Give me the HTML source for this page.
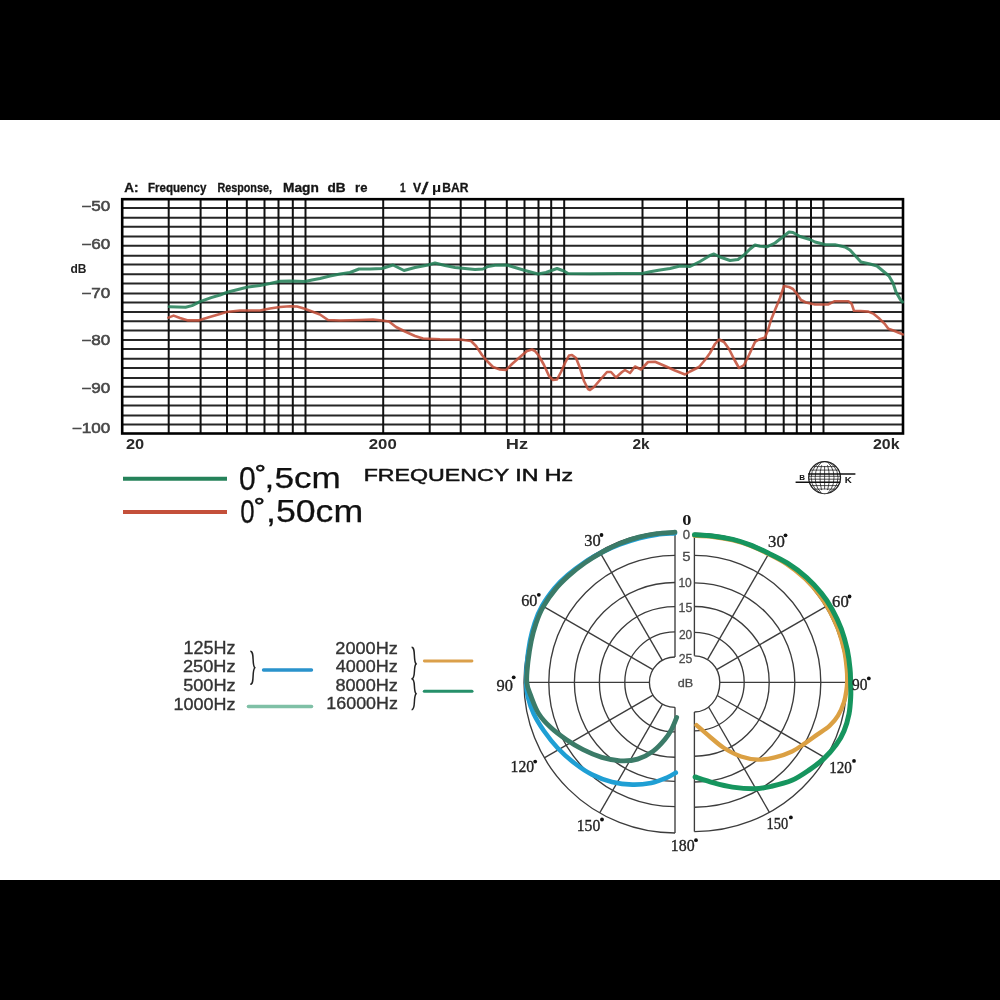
<!DOCTYPE html>
<html><head><meta charset="utf-8"><title>Frequency response</title>
<style>
html,body{margin:0;padding:0;background:#fff;}
body{width:1000px;height:1000px;overflow:hidden;font-family:"Liberation Sans",sans-serif;}
svg{display:block;will-change:transform;filter:blur(0.3px);}
</style></head><body>
<svg width="1000" height="1000" viewBox="0 0 1000 1000">
<rect x="0" y="0" width="1000" height="120" fill="#000"/>
<rect x="0" y="880" width="1000" height="120" fill="#000"/>
<line x1="122.2" y1="208" x2="903" y2="208" stroke="#262626" stroke-width="2"/>
<line x1="122.2" y1="217.8" x2="903" y2="217.8" stroke="#262626" stroke-width="2"/>
<line x1="122.2" y1="226.8" x2="903" y2="226.8" stroke="#262626" stroke-width="2"/>
<line x1="122.2" y1="236.6" x2="903" y2="236.6" stroke="#262626" stroke-width="2"/>
<line x1="122.2" y1="245.8" x2="903" y2="245.8" stroke="#262626" stroke-width="2"/>
<line x1="122.2" y1="255.8" x2="903" y2="255.8" stroke="#262626" stroke-width="2"/>
<line x1="122.2" y1="264.6" x2="903" y2="264.6" stroke="#262626" stroke-width="2"/>
<line x1="122.2" y1="274.2" x2="903" y2="274.2" stroke="#262626" stroke-width="2"/>
<line x1="122.2" y1="283.4" x2="903" y2="283.4" stroke="#262626" stroke-width="2"/>
<line x1="122.2" y1="293.4" x2="903" y2="293.4" stroke="#262626" stroke-width="2"/>
<line x1="122.2" y1="302.4" x2="903" y2="302.4" stroke="#262626" stroke-width="2"/>
<line x1="122.2" y1="312" x2="903" y2="312" stroke="#262626" stroke-width="2"/>
<line x1="122.2" y1="321.2" x2="903" y2="321.2" stroke="#262626" stroke-width="2"/>
<line x1="122.2" y1="330.4" x2="903" y2="330.4" stroke="#262626" stroke-width="2"/>
<line x1="122.2" y1="340" x2="903" y2="340" stroke="#262626" stroke-width="2"/>
<line x1="122.2" y1="349.1" x2="903" y2="349.1" stroke="#262626" stroke-width="2"/>
<line x1="122.2" y1="358.8" x2="903" y2="358.8" stroke="#262626" stroke-width="2"/>
<line x1="122.2" y1="368" x2="903" y2="368" stroke="#262626" stroke-width="2"/>
<line x1="122.2" y1="378" x2="903" y2="378" stroke="#262626" stroke-width="2"/>
<line x1="122.2" y1="386.8" x2="903" y2="386.8" stroke="#262626" stroke-width="2"/>
<line x1="122.2" y1="396.8" x2="903" y2="396.8" stroke="#262626" stroke-width="2"/>
<line x1="122.2" y1="405.6" x2="903" y2="405.6" stroke="#262626" stroke-width="2"/>
<line x1="122.2" y1="415.5" x2="903" y2="415.5" stroke="#262626" stroke-width="2"/>
<line x1="122.2" y1="424.6" x2="903" y2="424.6" stroke="#262626" stroke-width="2"/>
<line x1="168.7" y1="199.2" x2="168.7" y2="433.5" stroke="#111" stroke-width="2"/>
<line x1="200.6" y1="199.2" x2="200.6" y2="433.5" stroke="#111" stroke-width="2"/>
<line x1="227" y1="199.2" x2="227" y2="433.5" stroke="#111" stroke-width="2"/>
<line x1="246.8" y1="199.2" x2="246.8" y2="433.5" stroke="#111" stroke-width="2"/>
<line x1="264.5" y1="199.2" x2="264.5" y2="433.5" stroke="#111" stroke-width="2"/>
<line x1="278.5" y1="199.2" x2="278.5" y2="433.5" stroke="#111" stroke-width="2"/>
<line x1="292.8" y1="199.2" x2="292.8" y2="433.5" stroke="#111" stroke-width="2"/>
<line x1="305.5" y1="199.2" x2="305.5" y2="433.5" stroke="#111" stroke-width="2"/>
<line x1="383.2" y1="199.2" x2="383.2" y2="433.5" stroke="#111" stroke-width="2"/>
<line x1="429.7" y1="199.2" x2="429.7" y2="433.5" stroke="#111" stroke-width="2"/>
<line x1="460.7" y1="199.2" x2="460.7" y2="433.5" stroke="#111" stroke-width="2"/>
<line x1="485.2" y1="199.2" x2="485.2" y2="433.5" stroke="#111" stroke-width="2"/>
<line x1="506.8" y1="199.2" x2="506.8" y2="433.5" stroke="#111" stroke-width="2"/>
<line x1="524.5" y1="199.2" x2="524.5" y2="433.5" stroke="#111" stroke-width="2"/>
<line x1="538.5" y1="199.2" x2="538.5" y2="433.5" stroke="#111" stroke-width="2"/>
<line x1="551.2" y1="199.2" x2="551.2" y2="433.5" stroke="#111" stroke-width="2"/>
<line x1="564.2" y1="199.2" x2="564.2" y2="433.5" stroke="#111" stroke-width="2"/>
<line x1="642.5" y1="199.2" x2="642.5" y2="433.5" stroke="#111" stroke-width="2"/>
<line x1="687" y1="199.2" x2="687" y2="433.5" stroke="#111" stroke-width="2"/>
<line x1="718.7" y1="199.2" x2="718.7" y2="433.5" stroke="#111" stroke-width="2"/>
<line x1="745.5" y1="199.2" x2="745.5" y2="433.5" stroke="#111" stroke-width="2"/>
<line x1="765.8" y1="199.2" x2="765.8" y2="433.5" stroke="#111" stroke-width="2"/>
<line x1="783.7" y1="199.2" x2="783.7" y2="433.5" stroke="#111" stroke-width="2"/>
<line x1="796.8" y1="199.2" x2="796.8" y2="433.5" stroke="#111" stroke-width="2"/>
<line x1="811" y1="199.2" x2="811" y2="433.5" stroke="#111" stroke-width="2"/>
<line x1="823.5" y1="199.2" x2="823.5" y2="433.5" stroke="#111" stroke-width="2"/>
<rect x="122.2" y="199.2" width="780.8" height="234.3" fill="none" stroke="#000" stroke-width="2.6"/>
<polyline points="168.4,317.6 173.6,315.6 180.0,318.0 188.0,320.4 198.4,320.4 208.0,317.6 220.0,314.0 226.4,312.0 240.0,310.5 260.0,310.5 270.0,308.5 280.0,307.0 290.0,306.2 297.0,306.5 304.0,308.5 312.0,311.5 320.0,314.5 328.0,320.0 340.0,320.5 360.0,320.0 373.0,319.5 382.0,320.5 389.0,321.5 396.0,327.0 405.0,331.5 415.0,336.0 423.0,338.5 440.0,339.2 460.0,339.5 471.0,341.0 476.0,346.0 482.0,355.0 487.0,361.0 493.0,367.0 500.0,369.5 506.0,370.0 512.0,364.0 520.0,357.0 527.0,351.0 532.0,349.5 535.0,351.0 539.0,356.0 544.0,365.0 549.0,376.0 553.0,380.0 557.0,379.5 561.0,372.0 565.0,363.0 569.0,355.5 572.0,355.0 576.0,358.0 580.0,368.0 584.0,381.0 588.0,389.0 590.0,390.0 594.0,387.0 600.0,380.0 607.0,372.0 611.0,372.0 616.0,377.5 622.0,372.0 625.0,370.0 630.0,373.0 635.0,366.5 641.0,369.5 648.0,362.0 655.0,361.8 665.0,366.0 675.0,370.5 685.0,374.5 690.0,371.5 699.0,367.0 705.0,360.0 710.0,353.0 715.0,344.0 719.0,339.5 724.0,342.0 729.0,349.0 734.0,359.0 739.0,368.0 744.0,365.0 749.0,355.0 755.0,342.0 759.0,339.5 765.0,337.5 768.0,330.0 771.0,320.0 775.0,310.0 780.0,298.0 784.0,286.0 789.0,287.0 793.0,289.0 797.0,294.0 801.0,300.0 806.0,302.5 815.0,304.5 828.0,304.5 834.8,301.2 848.4,301.2 851.6,303.6 854.0,310.8 860.4,311.0 868.4,311.6 873.2,313.6 879.6,318.8 885.2,324.4 888.4,328.8 894.0,330.8 898.8,332.8 902.8,334.4" fill="none" stroke="#c4503a" stroke-width="2.6" stroke-linejoin="round" stroke-linecap="round" stroke-opacity="0.88"/>
<polyline points="169.2,306.8 185.6,307.2 192.0,305.6 200.0,301.6 211.2,297.6 220.0,295.0 228.0,292.0 238.0,289.5 248.0,287.0 260.0,285.5 270.0,283.5 280.0,281.2 290.0,281.0 305.0,281.5 312.0,280.0 320.0,278.5 330.0,276.0 340.0,274.0 350.0,272.5 359.0,269.0 370.0,269.0 382.0,268.5 393.0,265.0 404.0,270.5 415.0,267.5 428.0,265.0 435.0,263.0 445.0,265.5 455.0,267.5 465.0,268.5 475.0,269.5 483.0,269.0 488.0,266.5 495.0,265.2 507.0,265.0 515.0,267.5 525.0,270.5 538.0,274.0 546.0,272.5 557.0,268.5 564.0,271.0 568.0,273.5 590.0,273.8 620.0,273.6 642.0,273.5 650.0,271.8 660.0,270.0 670.0,268.5 680.0,266.0 690.0,266.5 700.0,261.5 710.0,255.5 714.0,254.0 720.0,257.0 730.0,260.5 738.0,259.5 744.0,255.0 750.0,249.0 755.0,245.0 760.0,246.2 767.0,246.8 775.0,243.0 782.0,237.5 789.0,232.0 793.0,232.5 800.0,236.5 810.0,239.5 815.0,242.0 825.0,244.5 835.0,244.8 845.0,247.0 850.0,250.0 855.0,255.5 861.0,262.0 870.0,264.0 877.0,266.0 883.0,271.0 889.0,276.0 893.0,283.0 896.0,292.0 900.0,299.0 902.5,302.0" fill="none" stroke="#25825a" stroke-width="3.0" stroke-linejoin="round" stroke-linecap="round" stroke-opacity="0.88"/>
<text x="124.16" y="191.60" font-family="Liberation Sans" font-weight="bold" font-size="12.21" fill="#151515" textLength="14.23" lengthAdjust="spacingAndGlyphs" stroke="#151515" stroke-width="0.3">A:</text>
<text x="148.03" y="191.60" font-family="Liberation Sans" font-weight="bold" font-size="12.21" fill="#151515" textLength="58.43" lengthAdjust="spacingAndGlyphs" stroke="#151515" stroke-width="0.3">Frequency</text>
<text x="217.38" y="191.60" font-family="Liberation Sans" font-weight="bold" font-size="12.21" fill="#151515" textLength="54.55" lengthAdjust="spacingAndGlyphs" stroke="#151515" stroke-width="0.3">Response,</text>
<text x="283.08" y="191.60" font-family="Liberation Sans" font-weight="bold" font-size="12.21" fill="#151515" textLength="35.77" lengthAdjust="spacingAndGlyphs" stroke="#151515" stroke-width="0.3">Magn</text>
<text x="327.44" y="191.60" font-family="Liberation Sans" font-weight="bold" font-size="12.21" fill="#151515" textLength="18.17" lengthAdjust="spacingAndGlyphs" stroke="#151515" stroke-width="0.3">dB</text>
<text x="355.14" y="191.60" font-family="Liberation Sans" font-weight="bold" font-size="12.21" fill="#151515" textLength="12.31" lengthAdjust="spacingAndGlyphs" stroke="#151515" stroke-width="0.3">re</text>
<text x="399.96" y="191.60" font-family="Liberation Sans" font-weight="bold" font-size="12.21" fill="#151515" textLength="5.62" lengthAdjust="spacingAndGlyphs" stroke="#151515" stroke-width="0.3">1</text>
<text x="412.91" y="191.60" font-family="Liberation Sans" font-weight="bold" font-size="12.21" fill="#151515" textLength="8.17" lengthAdjust="spacingAndGlyphs" stroke="#151515" stroke-width="0.3">V</text>
<text x="442.29" y="191.60" font-family="Liberation Sans" font-weight="bold" font-size="12.21" fill="#151515" textLength="26.17" lengthAdjust="spacingAndGlyphs" stroke="#151515" stroke-width="0.3">BAR</text>
<text x="421.50" y="193.53" font-family="Liberation Sans" font-size="16.73" fill="#151515" textLength="6.80" lengthAdjust="spacingAndGlyphs" stroke="#151515" stroke-width="0.5">/</text>
<text x="431.96" y="192.32" font-family="Liberation Sans" font-weight="bold" font-size="12.91" fill="#151515" textLength="9.20" lengthAdjust="spacingAndGlyphs" >µ</text>
<text x="81.2" y="210.9" font-family="Liberation Sans" font-size="14" fill="#484848" stroke="#484848" stroke-width="0.55" textLength="29" lengthAdjust="spacingAndGlyphs">−50</text>
<text x="81.2" y="249.4" font-family="Liberation Sans" font-size="14" fill="#484848" stroke="#484848" stroke-width="0.55" textLength="29" lengthAdjust="spacingAndGlyphs">−60</text>
<text x="81.2" y="298.4" font-family="Liberation Sans" font-size="14" fill="#484848" stroke="#484848" stroke-width="0.55" textLength="29" lengthAdjust="spacingAndGlyphs">−70</text>
<text x="81.2" y="344.7" font-family="Liberation Sans" font-size="14" fill="#484848" stroke="#484848" stroke-width="0.55" textLength="29" lengthAdjust="spacingAndGlyphs">−80</text>
<text x="81.2" y="392.9" font-family="Liberation Sans" font-size="14" fill="#484848" stroke="#484848" stroke-width="0.55" textLength="29" lengthAdjust="spacingAndGlyphs">−90</text>
<text x="71.7" y="432.5" font-family="Liberation Sans" font-size="14" fill="#484848" stroke="#484848" stroke-width="0.55" textLength="38.5" lengthAdjust="spacingAndGlyphs">−100</text>
<text x="70.5" y="273" font-family="Liberation Sans" font-weight="bold" font-size="12" fill="#222">dB</text>
<text x="125.93" y="448.85" font-family="Liberation Sans" font-weight="bold" font-size="14.69" fill="#2a2a2a" textLength="18.25" lengthAdjust="spacingAndGlyphs" >20</text>
<text x="368.81" y="448.85" font-family="Liberation Sans" font-weight="bold" font-size="14.69" fill="#2a2a2a" textLength="27.98" lengthAdjust="spacingAndGlyphs" >200</text>
<text x="505.78" y="448.85" font-family="Liberation Sans" font-weight="bold" font-size="14.69" fill="#2a2a2a" textLength="22.28" lengthAdjust="spacingAndGlyphs" >Hz</text>
<text x="632.46" y="448.85" font-family="Liberation Sans" font-weight="bold" font-size="14.69" fill="#2a2a2a" textLength="17.13" lengthAdjust="spacingAndGlyphs" >2k</text>
<text x="872.94" y="448.85" font-family="Liberation Sans" font-weight="bold" font-size="14.69" fill="#2a2a2a" textLength="26.55" lengthAdjust="spacingAndGlyphs" >20k</text>
<line x1="123" y1="478.8" x2="227" y2="478.8" stroke="#25825a" stroke-width="4"/>
<line x1="123" y1="512" x2="227" y2="512" stroke="#c4503a" stroke-width="4"/>
<text x="239.03" y="489.87" font-family="Liberation Sans" font-size="33.47" fill="#111" textLength="16.75" lengthAdjust="spacingAndGlyphs" stroke="#111" stroke-width="0.25">0</text>
<text x="254.73" y="481.26" font-family="Liberation Sans" font-size="21.58" fill="#111" textLength="11.14" lengthAdjust="spacingAndGlyphs" stroke="#111" stroke-width="0.6">°</text>
<text x="264.64" y="488.10" font-family="Liberation Sans" font-size="29.66" fill="#111" textLength="76.08" lengthAdjust="spacingAndGlyphs" stroke="#111" stroke-width="0.25">,5cm</text>
<text x="240.19" y="522.66" font-family="Liberation Sans" font-size="34.04" fill="#111" textLength="14.43" lengthAdjust="spacingAndGlyphs" stroke="#111" stroke-width="0.25">0</text>
<text x="253.83" y="513.71" font-family="Liberation Sans" font-size="21.22" fill="#111" textLength="11.14" lengthAdjust="spacingAndGlyphs" stroke="#111" stroke-width="0.6">°</text>
<text x="265.99" y="521.99" font-family="Liberation Sans" font-size="30.66" fill="#111" textLength="97.17" lengthAdjust="spacingAndGlyphs" stroke="#111" stroke-width="0.25">,50cm</text>
<text x="363.70" y="480.93" font-family="Liberation Sans" font-size="16.23" fill="#111" textLength="209.46" lengthAdjust="spacingAndGlyphs" stroke="#111" stroke-width="0.45">FREQUENCY IN Hz</text>
<g stroke="#222" fill="none" stroke-width="0.8"><circle cx="824.6" cy="477.6" r="15.9" stroke-width="1.3"/><ellipse cx="824.6" cy="477.6" rx="4.6" ry="15.9"/><ellipse cx="824.6" cy="477.6" rx="9.4" ry="15.9"/><ellipse cx="824.6" cy="477.6" rx="13.4" ry="15.9"/><line x1="824.6" y1="461.70000000000005" x2="824.6" y2="493.5"/><line x1="813.1" y1="466.6" x2="836.1" y2="466.6"/><line x1="810.6" y1="470.1" x2="838.6" y2="470.1"/><line x1="808.8" y1="476.3" x2="840.4" y2="476.3"/><line x1="808.8" y1="479.20000000000005" x2="840.4" y2="479.20000000000005"/><line x1="810.9" y1="485.6" x2="838.3" y2="485.6"/><line x1="813.6" y1="489.1" x2="835.6" y2="489.1"/></g><ellipse cx="824.6" cy="464.1" rx="3.8" ry="1.8" fill="#fff"/><ellipse cx="824.6" cy="491.40000000000003" rx="3.8" ry="1.8" fill="#fff"/><line x1="808.2" y1="473.9" x2="855.4" y2="473.9" stroke="#111" stroke-width="1.5"/><line x1="795.6" y1="482.2" x2="840.4" y2="482.2" stroke="#111" stroke-width="1.5"/><text x="799.26" y="479.50" font-family="Liberation Sans" font-weight="bold" font-size="7.12" fill="#111" textLength="5.80" lengthAdjust="spacingAndGlyphs" >B</text><text x="844.65" y="482.60" font-family="Liberation Sans" font-weight="bold" font-size="8.14" fill="#111" textLength="7.05" lengthAdjust="spacingAndGlyphs" >K</text>
<path d="M675.0,657.0 A25.6,25.4 0 0 0 649.4,682.4 A25.6,24.9 0 0 0 675.0,707.3" fill="none" stroke="#3c3c3c" stroke-width="1.35"/><path d="M675.0,631.8 A50.2,50.6 0 0 0 624.8,682.4 A50.2,49.5 0 0 0 675.0,731.9" fill="none" stroke="#3c3c3c" stroke-width="1.35"/><path d="M675.0,606.6 A75.6,75.8 0 0 0 599.4,682.4 A75.6,74.8 0 0 0 675.0,757.2" fill="none" stroke="#3c3c3c" stroke-width="1.35"/><path d="M675.0,582.5 A100.6,99.9 0 0 0 574.4,682.4 A100.6,98.9 0 0 0 675.0,781.3" fill="none" stroke="#3c3c3c" stroke-width="1.35"/><path d="M675.0,555.3 A126.2,127.1 0 0 0 548.8,682.4 A126.2,124.2 0 0 0 675.0,806.6" fill="none" stroke="#3c3c3c" stroke-width="1.35"/><path d="M675.0,531.1 A151.0,151.3 0 0 0 524.0,682.4 A151.0,150.6 0 0 0 675.0,833.0" fill="none" stroke="#3c3c3c" stroke-width="1.35"/><line x1="662.3" y1="660.4" x2="599.4" y2="551.4" fill="none" stroke="#3c3c3c" stroke-width="1.35"/><line x1="652.9" y1="669.6" x2="544.2" y2="606.9" fill="none" stroke="#3c3c3c" stroke-width="1.35"/><line x1="649.4" y1="682.4" x2="524.0" y2="682.4" fill="none" stroke="#3c3c3c" stroke-width="1.35"/><line x1="653.0" y1="695.1" x2="544.3" y2="757.8" fill="none" stroke="#3c3c3c" stroke-width="1.35"/><line x1="662.5" y1="704.1" x2="599.7" y2="812.9" fill="none" stroke="#3c3c3c" stroke-width="1.35"/><line x1="675.0" y1="531.1" x2="675.0" y2="657.0" fill="none" stroke="#3c3c3c" stroke-width="1.35"/><line x1="675.0" y1="707.3" x2="675.0" y2="833.0" fill="none" stroke="#3c3c3c" stroke-width="1.35"/>
<path d="M694.4,655.8 A25.4,26.6 0 0 1 719.8,682.4 A25.4,29.6 0 0 1 694.4,712.0" fill="none" stroke="#3c3c3c" stroke-width="1.35"/><path d="M694.4,632.3 A49.8,50.1 0 0 1 744.2,682.4 A49.8,48.4 0 0 1 694.4,730.8" fill="none" stroke="#3c3c3c" stroke-width="1.35"/><path d="M694.4,606.5 A74.8,75.9 0 0 1 769.2,682.4 A74.8,73.8 0 0 1 694.4,756.2" fill="none" stroke="#3c3c3c" stroke-width="1.35"/><path d="M694.4,582.8 A100.4,99.6 0 0 1 794.8,682.4 A100.4,99.6 0 0 1 694.4,782.0" fill="none" stroke="#3c3c3c" stroke-width="1.35"/><path d="M694.4,555.4 A126.4,127.0 0 0 1 820.8,682.4 A126.4,124.8 0 0 1 694.4,807.2" fill="none" stroke="#3c3c3c" stroke-width="1.35"/><path d="M694.4,533.2 A152.4,149.2 0 0 1 846.8,682.4 A152.4,149.2 0 0 1 694.4,831.6" fill="none" stroke="#3c3c3c" stroke-width="1.35"/><line x1="707.5" y1="659.6" x2="769.4" y2="552.5" fill="none" stroke="#3c3c3c" stroke-width="1.35"/><line x1="716.6" y1="669.6" x2="825.7" y2="606.6" fill="none" stroke="#3c3c3c" stroke-width="1.35"/><line x1="719.8" y1="682.4" x2="846.8" y2="682.4" fill="none" stroke="#3c3c3c" stroke-width="1.35"/><line x1="717.2" y1="695.5" x2="825.7" y2="758.2" fill="none" stroke="#3c3c3c" stroke-width="1.35"/><line x1="708.6" y1="707.0" x2="769.4" y2="812.3" fill="none" stroke="#3c3c3c" stroke-width="1.35"/><line x1="694.4" y1="533.2" x2="694.4" y2="655.8" fill="none" stroke="#3c3c3c" stroke-width="1.35"/><line x1="694.4" y1="712.0" x2="694.4" y2="831.6" fill="none" stroke="#3c3c3c" stroke-width="1.35"/>
<path d="M675.0,533.2 C672.0,533.5 662.9,533.9 656.9,534.7 C650.9,535.5 645.3,536.6 639.1,538.2 C632.8,539.9 625.4,542.3 619.3,544.6 C613.3,546.9 608.5,549.0 602.7,551.9 C596.9,554.9 590.3,558.4 584.5,562.3 C578.7,566.1 572.7,570.7 567.7,575.1 C562.7,579.4 558.7,583.1 554.4,588.2 C550.2,593.3 545.4,599.9 542.2,605.7 C538.9,611.5 536.7,617.0 534.7,622.9 C532.7,628.7 531.3,634.4 530.0,640.8 C528.8,647.3 527.7,654.7 527.1,661.6 C526.4,668.5 526.1,676.5 526.2,682.4 C526.3,688.3 526.6,691.7 527.9,697.0 C529.2,702.3 531.1,708.3 533.8,714.0 C536.5,719.7 540.0,725.3 544.0,731.0 C548.0,736.7 552.5,742.6 557.6,748.0 C562.7,753.4 568.9,758.9 574.6,763.3 C580.3,767.7 585.4,771.3 591.6,774.4 C597.8,777.5 605.2,780.3 612.0,782.0 C618.8,783.7 625.9,784.5 632.4,784.6 C638.9,784.8 645.5,784.0 651.2,782.9 C656.9,781.8 662.4,779.5 666.5,777.8 C670.6,776.1 674.2,773.6 675.8,772.7" fill="none" stroke="#1f9fd4" stroke-width="4.6" stroke-linecap="round"/>
<path d="M675.0,532.2 C672.0,532.5 662.8,532.9 656.7,533.7 C650.7,534.6 645.1,535.6 638.8,537.2 C632.5,538.9 625.1,541.4 619.0,543.9 C613.0,546.3 608.3,548.7 602.7,551.9 C597.0,555.1 590.7,558.9 585.0,562.9 C579.3,566.9 573.4,571.6 568.5,575.9 C563.6,580.3 559.7,584.0 555.5,589.1 C551.3,594.1 546.6,600.7 543.4,606.4 C540.1,612.1 538.0,617.6 536.0,623.4 C534.0,629.2 532.5,634.8 531.2,641.2 C529.9,647.6 528.8,654.9 528.0,661.7 C527.3,668.6 526.3,676.5 526.8,682.4 C527.3,688.3 529.3,691.7 531.3,697.0 C533.3,702.3 535.6,708.9 538.9,714.0 C542.1,719.1 546.3,723.4 550.8,727.6 C555.3,731.9 560.7,735.8 566.1,739.5 C571.5,743.2 577.2,746.7 583.1,749.7 C589.0,752.7 595.6,755.5 601.8,757.4 C608.0,759.2 614.5,760.5 620.5,760.8 C626.5,761.1 632.2,760.7 637.6,759.1 C643.0,757.5 648.4,754.7 652.9,751.4 C657.4,748.1 661.7,743.2 664.8,739.5 C667.9,735.8 669.6,733.0 671.6,729.3 C673.6,725.6 675.9,719.4 676.7,717.4" fill="none" stroke="#3b7b68" stroke-width="4.8" stroke-linecap="round"/>
<path d="M694.4,535.8 C697.4,535.9 705.9,536.0 712.3,536.7 C718.6,537.4 726.3,538.7 732.5,540.2 C738.7,541.7 744.1,543.4 749.7,545.5 C755.3,547.7 760.0,549.8 766.2,553.0 C772.3,556.1 780.2,559.9 786.7,564.2 C793.3,568.5 799.8,573.9 805.3,579.0 C810.7,584.1 815.4,589.6 819.4,594.9 C823.4,600.1 826.3,604.7 829.5,610.6 C832.7,616.4 835.9,623.3 838.4,630.0 C840.8,636.7 842.8,644.0 844.3,650.5 C845.7,657.1 846.3,663.8 846.8,669.1 C847.3,674.4 847.3,678.9 847.2,682.4 C847.1,685.9 847.0,686.9 846.5,690.2 C846.0,693.5 845.4,697.9 844.0,702.1 C842.6,706.4 840.4,711.7 838.0,715.7 C835.6,719.7 832.9,722.8 829.5,725.9 C826.1,729.0 821.6,731.6 817.6,734.4 C813.6,737.2 809.9,740.1 805.6,742.9 C801.3,745.7 797.1,749.0 792.0,751.4 C786.9,753.8 780.7,756.0 775.0,757.4 C769.3,758.8 763.7,759.8 758.0,759.6 C752.3,759.5 746.7,758.4 741.0,756.5 C735.3,754.6 729.1,751.2 724.0,748.0 C718.9,744.8 715.0,741.0 710.4,737.2 C705.8,733.4 698.8,727.2 696.5,725.2" fill="none" stroke="#dba043" stroke-width="4.4" stroke-linecap="round"/>
<path d="M694.4,534.8 C697.4,535.0 706.0,535.1 712.4,535.9 C718.8,536.7 726.4,538.0 732.7,539.4 C739.0,540.9 744.4,542.7 750.0,544.8 C755.6,546.9 760.3,549.2 766.5,552.3 C772.8,555.3 780.9,558.9 787.5,563.2 C794.2,567.4 801.1,572.6 806.7,577.6 C812.4,582.7 817.3,588.1 821.5,593.4 C825.8,598.6 828.8,603.2 832.1,609.2 C835.4,615.1 838.7,622.2 841.3,628.9 C843.8,635.7 845.8,643.3 847.3,649.9 C848.7,656.5 849.5,663.4 850.0,668.8 C850.6,674.2 850.5,677.7 850.6,682.4 C850.7,687.1 851.0,691.7 850.7,697.0 C850.4,702.3 850.1,708.3 849.0,714.0 C847.9,719.7 846.1,725.9 844.0,731.0 C841.9,736.1 839.6,740.1 836.3,744.6 C833.0,749.1 828.9,754.0 824.4,758.2 C819.9,762.5 814.4,766.4 809.0,770.1 C803.6,773.8 798.2,777.6 792.0,780.3 C785.8,783.0 777.8,784.9 771.6,786.3 C765.4,787.7 761.1,788.7 754.6,788.8 C748.1,788.9 739.3,788.1 732.5,787.1 C725.7,786.1 720.0,784.6 713.8,782.9 C707.6,781.2 698.2,778.0 695.1,777.0" fill="none" stroke="#16955e" stroke-width="5" stroke-linecap="round"/>
<text x="682.79" y="539.18" font-family="Liberation Sans" font-size="12.01" fill="#4a4a4a" textLength="7.33" lengthAdjust="spacingAndGlyphs" stroke="#4a4a4a" stroke-width="0.3">0</text>
<text x="682.30" y="561.27" font-family="Liberation Sans" font-size="13.18" fill="#4a4a4a" textLength="8.33" lengthAdjust="spacingAndGlyphs" stroke="#4a4a4a" stroke-width="0.3">5</text>
<text x="678.39" y="586.87" font-family="Liberation Sans" font-size="12.99" fill="#4a4a4a" textLength="13.39" lengthAdjust="spacingAndGlyphs" stroke="#4a4a4a" stroke-width="0.3">10</text>
<text x="678.56" y="612.37" font-family="Liberation Sans" font-size="13.18" fill="#4a4a4a" textLength="13.76" lengthAdjust="spacingAndGlyphs" stroke="#4a4a4a" stroke-width="0.3">15</text>
<text x="678.90" y="639.07" font-family="Liberation Sans" font-size="13.28" fill="#4a4a4a" textLength="13.37" lengthAdjust="spacingAndGlyphs" stroke="#4a4a4a" stroke-width="0.3">20</text>
<text x="678.69" y="663.37" font-family="Liberation Sans" font-size="13.42" fill="#4a4a4a" textLength="13.63" lengthAdjust="spacingAndGlyphs" stroke="#4a4a4a" stroke-width="0.3">25</text>
<text x="677.77" y="686.68" font-family="Liberation Sans" font-size="11.84" fill="#4a4a4a" textLength="15.40" lengthAdjust="spacingAndGlyphs" stroke="#4a4a4a" stroke-width="0.3">dB</text>
<text x="682.30" y="525.06" font-family="Liberation Serif" font-weight="bold" font-size="14.22" fill="#1a1a1a" textLength="9.20" lengthAdjust="spacingAndGlyphs" >0</text>
<text x="584.31" y="546.13" font-family="Liberation Serif" font-size="17.33" fill="#222" textLength="16.41" lengthAdjust="spacingAndGlyphs" stroke="#222" stroke-width="0.35">30</text>
<circle cx="601.5" cy="535" r="1.9" fill="#111"/>
<text x="521.20" y="606.03" font-family="Liberation Serif" font-size="16.59" fill="#222" textLength="16.21" lengthAdjust="spacingAndGlyphs" stroke="#222" stroke-width="0.35">60</text>
<circle cx="538.8" cy="594.8" r="1.9" fill="#111"/>
<text x="496.57" y="690.63" font-family="Liberation Serif" font-size="17.19" fill="#222" textLength="16.45" lengthAdjust="spacingAndGlyphs" stroke="#222" stroke-width="0.35">90</text>
<circle cx="513.7" cy="677.3" r="1.9" fill="#111"/>
<text x="510.62" y="772.13" font-family="Liberation Serif" font-size="16.74" fill="#222" textLength="23.58" lengthAdjust="spacingAndGlyphs" stroke="#222" stroke-width="0.35">120</text>
<circle cx="535.2" cy="761.6" r="1.9" fill="#111"/>
<text x="576.72" y="830.63" font-family="Liberation Serif" font-size="17.04" fill="#222" textLength="23.58" lengthAdjust="spacingAndGlyphs" stroke="#222" stroke-width="0.35">150</text>
<circle cx="602" cy="819.5" r="1.9" fill="#111"/>
<text x="670.80" y="851.03" font-family="Liberation Serif" font-size="16.89" fill="#222" textLength="23.80" lengthAdjust="spacingAndGlyphs" stroke="#222" stroke-width="0.35">180</text>
<circle cx="696" cy="840.2" r="1.9" fill="#111"/>
<text x="768.10" y="546.93" font-family="Liberation Serif" font-size="17.04" fill="#222" textLength="16.74" lengthAdjust="spacingAndGlyphs" stroke="#222" stroke-width="0.35">30</text>
<circle cx="785.5" cy="535.3" r="1.9" fill="#111"/>
<text x="832.08" y="607.23" font-family="Liberation Serif" font-size="16.89" fill="#222" textLength="16.65" lengthAdjust="spacingAndGlyphs" stroke="#222" stroke-width="0.35">60</text>
<circle cx="849.5" cy="596.5" r="1.9" fill="#111"/>
<text x="852.10" y="690.03" font-family="Liberation Serif" font-size="17.19" fill="#222" textLength="15.48" lengthAdjust="spacingAndGlyphs" stroke="#222" stroke-width="0.35">90</text>
<circle cx="868.8" cy="678.4" r="1.9" fill="#111"/>
<text x="829.16" y="772.63" font-family="Liberation Serif" font-size="16.89" fill="#222" textLength="22.82" lengthAdjust="spacingAndGlyphs" stroke="#222" stroke-width="0.35">120</text>
<circle cx="854" cy="760.9" r="1.9" fill="#111"/>
<text x="766.53" y="829.03" font-family="Liberation Serif" font-size="17.19" fill="#222" textLength="21.62" lengthAdjust="spacingAndGlyphs" stroke="#222" stroke-width="0.35">150</text>
<circle cx="790.9" cy="817.4" r="1.9" fill="#111"/>
<text x="183.63" y="654.02" font-family="Liberation Sans" font-size="17.51" fill="#333" textLength="51.96" lengthAdjust="spacingAndGlyphs" stroke="#333" stroke-width="0.35">125Hz</text>
<text x="182.99" y="672.14" font-family="Liberation Sans" font-size="15.82" fill="#333" textLength="52.61" lengthAdjust="spacingAndGlyphs" stroke="#333" stroke-width="0.35">250Hz</text>
<text x="183.17" y="690.94" font-family="Liberation Sans" font-size="16.24" fill="#333" textLength="52.43" lengthAdjust="spacingAndGlyphs" stroke="#333" stroke-width="0.35">500Hz</text>
<text x="173.63" y="709.83" font-family="Liberation Sans" font-size="16.95" fill="#333" textLength="61.96" lengthAdjust="spacingAndGlyphs" stroke="#333" stroke-width="0.35">1000Hz</text>
<text x="335.29" y="653.53" font-family="Liberation Sans" font-size="17.37" fill="#333" textLength="62.61" lengthAdjust="spacingAndGlyphs" stroke="#333" stroke-width="0.35">2000Hz</text>
<text x="335.79" y="671.83" font-family="Liberation Sans" font-size="17.37" fill="#333" textLength="62.11" lengthAdjust="spacingAndGlyphs" stroke="#333" stroke-width="0.35">4000Hz</text>
<text x="335.42" y="690.53" font-family="Liberation Sans" font-size="16.81" fill="#333" textLength="62.48" lengthAdjust="spacingAndGlyphs" stroke="#333" stroke-width="0.35">8000Hz</text>
<text x="326.34" y="709.23" font-family="Liberation Sans" font-size="16.81" fill="#333" textLength="71.55" lengthAdjust="spacingAndGlyphs" stroke="#333" stroke-width="0.35">16000Hz</text>
<path d="M250.3,651.2 C254.8,651.2 251.65,664.7 254.8,667.7 C251.65,670.7 254.8,684.3 250.3,684.3" fill="none" stroke="#222" stroke-width="1.5"/>
<path d="M411.6,647.3 C416.1,647.3 412.95000000000005,660.9 416.1,663.9 C412.95000000000005,666.9 416.1,678.8 411.6,678.8" fill="none" stroke="#222" stroke-width="1.5"/>
<path d="M411.6,678.8 C416.1,678.8 412.95000000000005,690.7 416.1,693.7 C412.95000000000005,696.7 416.1,709.8 411.6,709.8" fill="none" stroke="#222" stroke-width="1.5"/>
<line x1="263.5" y1="670" x2="311.5" y2="670" stroke="#2a93cc" stroke-width="3.4" stroke-linecap="round"/>
<line x1="248.5" y1="706.5" x2="311.5" y2="706.5" stroke="#7fc0a6" stroke-width="3.6" stroke-linecap="round"/>
<line x1="424.3" y1="661" x2="472" y2="661" stroke="#dba04a" stroke-width="2.8" stroke-linecap="round"/>
<line x1="424.3" y1="691.3" x2="472" y2="691.3" stroke="#26906a" stroke-width="3" stroke-linecap="round"/>
</svg>
</body></html>
